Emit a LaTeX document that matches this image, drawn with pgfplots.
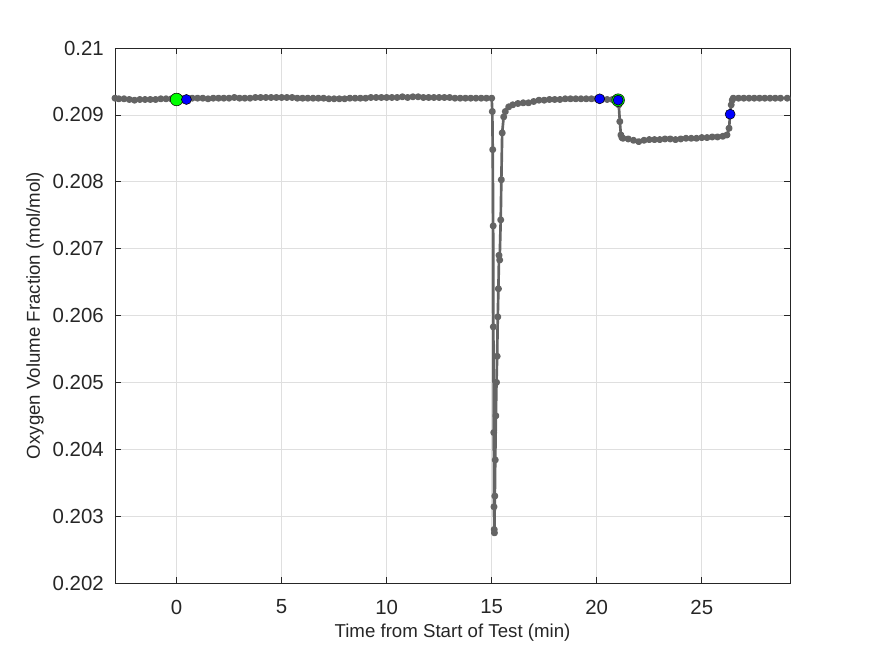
\documentclass[border=0pt]{standalone}
\usepackage{pgfplots}
\pgfplotsset{compat=1.18}
\usepackage{fontspec}
\setmainfont{Liberation Sans}
\definecolor{linegray}{RGB}{100,100,100}
\definecolor{boxgray}{RGB}{38,38,38}
\definecolor{gridgray}{RGB}{223,223,223}
\begin{document}
\begin{tikzpicture}
\useasboundingbox (-86.25pt,-54.75pt) rectangle (570pt,437.25pt);
\begin{axis}[
  at={(0,0)}, anchor=south west,
  scale only axis, width=506.25pt, height=401.25pt,
  xmin=-2.93, xmax=29.2, ymin=0.202, ymax=0.21,
  xtick={0,5,10,15,20,25},
  xticklabels={0,5,10,15,20,25},
  ytick={0.202,0.203,0.204,0.205,0.206,0.207,0.208,0.209,0.21},
  yticklabels={0.202,0.203,0.204,0.205,0.206,0.207,0.208,0.209,0.21},
  scaled y ticks=false,
  /pgf/number format/assume math mode=true,
  tick align=inside, tick pos=both,
  major tick length=4.3pt,
  every tick/.style={boxgray, line width=0.5pt},
  axis line style={boxgray, line width=0.5pt},
  grid=major,
  major grid style={gridgray, line width=0.5pt},
  xticklabel style={font=\fontsize{15.3}{18}\selectfont, text=boxgray, inner sep=0pt, anchor=north, yshift=-12.5pt},
  yticklabel style={font=\fontsize{15.3}{18}\selectfont, text=boxgray, inner sep=0pt, anchor=east, xshift=-8.25pt},
  xlabel={Time from Start of Test (min)},
  ylabel={Oxygen Volume Fraction (mol/mol)},
  xlabel style={font=\fontsize{14}{16}\selectfont, text=boxgray, inner sep=0pt, at={([yshift=-41.25pt]axis description cs:0.5,0)}, anchor=base},
  ylabel style={font=\fontsize{14}{16}\selectfont, text=boxgray, inner sep=0pt, at={([xshift=-56.25pt]axis description cs:0,0.5)}, anchor=base, rotate=0},
]
\addplot[linegray, line width=2pt, line join=round, mark=*, mark size=1.6pt, mark options={linegray}] coordinates {
(-2.93,0.20925) (-2.75,0.20924) (-2.5,0.20924) (-2.25,0.20923) (-2.0,0.20922) (-1.75,0.20923)
(-1.5,0.20923) (-1.25,0.20923) (-1.0,0.20923) (-0.75,0.20924) (-0.5,0.20924) (-0.25,0.20924)
(0,0.20924) (0.25,0.20924) (0.5,0.20924) (0.75,0.20925) (1,0.20925) (1.25,0.20925) (1.5,0.20924)
(1.75,0.20925) (2,0.20925) (2.25,0.20925) (2.5,0.20925) (2.75,0.20926) (3,0.20925) (3.25,0.20925)
(3.5,0.20925) (3.75,0.20926) (4,0.20926) (4.25,0.20926) (4.5,0.20926) (4.75,0.20926) (5,0.20926)
(5.25,0.20926) (5.5,0.20926) (5.75,0.20925) (6,0.20925) (6.25,0.20925) (6.5,0.20925) (6.75,0.20925)
(7,0.20925) (7.25,0.20924) (7.5,0.20924) (7.75,0.20924) (8,0.20924) (8.25,0.20925) (8.5,0.20925)
(8.75,0.20925) (9,0.20925) (9.25,0.20926) (9.5,0.20926) (9.75,0.20926) (10,0.20926) (10.25,0.20926)
(10.5,0.20926) (10.75,0.20927) (11,0.20926) (11.25,0.20927) (11.5,0.20927) (11.75,0.20926)
(12,0.20926) (12.25,0.20926) (12.5,0.20926) (12.75,0.20926) (13,0.20926) (13.25,0.20925)
(13.5,0.20925) (13.75,0.20925) (14,0.20925) (14.25,0.20925) (14.5,0.20925) (14.75,0.20925)
(15.0,0.20925)
(15.03,0.20905) (15.05,0.20848) (15.07,0.20734) (15.08,0.20583) (15.10,0.20425)
(15.11,0.20314) (15.12,0.20280) (15.13,0.20275) (15.15,0.20330) (15.17,0.20384)
(15.20,0.20450) (15.23,0.20500) (15.26,0.20539) (15.29,0.20598) (15.32,0.20640)
(15.35,0.20690) (15.38,0.20683) (15.43,0.20743) (15.46,0.20803) (15.50,0.20873)
(15.57,0.20897) (15.65,0.20905) (15.81,0.20912) (16.0,0.20915) (16.25,0.20917)
(16.5,0.20918) (16.75,0.20918) (17.0,0.20920) (17.25,0.20922) (17.5,0.20922)
(17.75,0.20923) (18,0.20923) (18.25,0.20923) (18.5,0.20924) (18.75,0.20924) (19,0.20924)
(19.25,0.20924) (19.5,0.20924) (19.75,0.20924) (20,0.20924) (20.25,0.20924) (20.5,0.20923)
(20.75,0.20923) (21.0,0.20922)
(21.05,0.20915) (21.1,0.20890) (21.15,0.20870) (21.2,0.20866)
(21.25,0.20865) (21.5,0.20864) (21.75,0.20862) (22.0,0.20860) (22.25,0.20862) (22.5,0.20863)
(22.75,0.20863) (23,0.20863) (23.25,0.20864) (23.5,0.20864) (23.75,0.20863) (24,0.20864)
(24.25,0.20865) (24.5,0.20865) (24.75,0.20865) (25,0.20866) (25.25,0.20866) (25.5,0.20867)
(25.75,0.20867) (26.0,0.20868) (26.2,0.20870)
(26.3,0.20880) (26.35,0.20901) (26.4,0.20915) (26.45,0.20922) (26.5,0.20925)
(26.75,0.20925) (27,0.20925) (27.25,0.20925) (27.5,0.20925) (27.75,0.20925) (28,0.20925)
(28.25,0.20925) (28.5,0.20925) (28.75,0.20925) (29.07,0.20925)
};
\addplot[only marks, mark=*, mark size=4.75pt, mark options={draw=none, fill=green}] coordinates {
(0,0.20923) (21.02,0.20922)
};
\addplot[only marks, mark=*, mark size=3.75pt, mark options={draw=none, fill=blue}] coordinates {
(0.47,0.20923) (20.14,0.20924) (21.02,0.20922) (26.35,0.20901)
};
\end{axis}
\end{tikzpicture}
\end{document}
